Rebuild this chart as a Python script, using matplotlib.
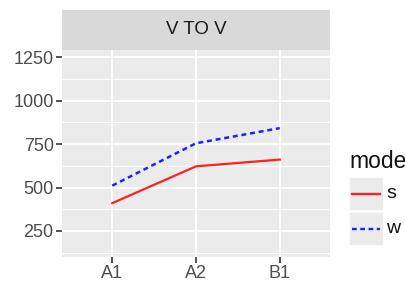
import matplotlib.pyplot as plt
from matplotlib.patches import Rectangle
from matplotlib.lines import Line2D

# данные
categories = ['A1', 'A2', 'B1']
s_values = [410, 622, 661]
w_values = [511, 755, 842]
y_ticks = [250, 500, 750, 1000, 1250]
y_minor = [125, 375, 625, 875, 1125]

plt.rcParams['font.family'] = ['Liberation Sans', 'DejaVu Sans']

fig = plt.figure(figsize=(4.06, 2.87), dpi=100)
ax = fig.add_axes([62 / 406, 30 / 287, 268 / 406, 207 / 287])
ax.set_facecolor('#EBEBEB')

x = list(range(len(categories)))
ax.plot(x, s_values, color='#FF2020', lw=1.6, label='s')
ax.plot(x, w_values, color='#2020FF', lw=1.8, linestyle=(0, (2.0, 1.5)), label='w')

ax.set_xlim(-0.6, 2.6)
ax.set_ylim(100, 1292)
ax.set_xticks(x)
ax.set_xticklabels(categories)
ax.set_yticks(y_ticks)
ax.set_yticks(y_minor, minor=True)
ax.grid(True, which='major', color='white', lw=1.4)
ax.grid(True, which='minor', color='white', lw=0.7)
ax.set_axisbelow(True)
for sp in ax.spines.values():
    sp.set_visible(False)
ax.tick_params(axis='both', which='major', length=4, width=1.2, color='#333333',
               labelcolor='#4D4D4D', labelsize=13, pad=2)
ax.tick_params(axis='both', which='minor', length=0)

# полоса с заголовком панели
strip = fig.add_axes([62 / 406, 237 / 287, 268 / 406, 40 / 287])
strip.set_facecolor('#D9D9D9')
strip.set_xticks([])
strip.set_yticks([])
for sp in strip.spines.values():
    sp.set_visible(False)
strip.text(0.5, 0.5, 'V TO V', ha='center', va='center', fontsize=13.5, color='#1A1A1A')

# легенда
fig.text(349 / 406, 1 - 162 / 287, 'mode', fontsize=16.5, color='#111111', va='center', ha='left')
keys = [('s', '#FF2020', '-'), ('w', '#2020FF', (0, (2.0, 1.5)))]
for i, (lab, col, ls) in enumerate(keys):
    top = 178 + i * 35
    fig.patches.append(Rectangle((350 / 406, 1 - (top + 31) / 287), 32 / 406, 31 / 287,
                                 transform=fig.transFigure, color='#EBEBEB', zorder=0))
    yc = 1 - (top + 15.5) / 287
    fig.lines.append(Line2D([352 / 406, 380 / 406], [yc, yc], transform=fig.transFigure,
                            color=col, lw=1.7, linestyle=ls))
    fig.text(386 / 406, yc, lab, fontsize=14, color='#111111', va='center', ha='left')

plt.savefig('out.png', dpi=100)
